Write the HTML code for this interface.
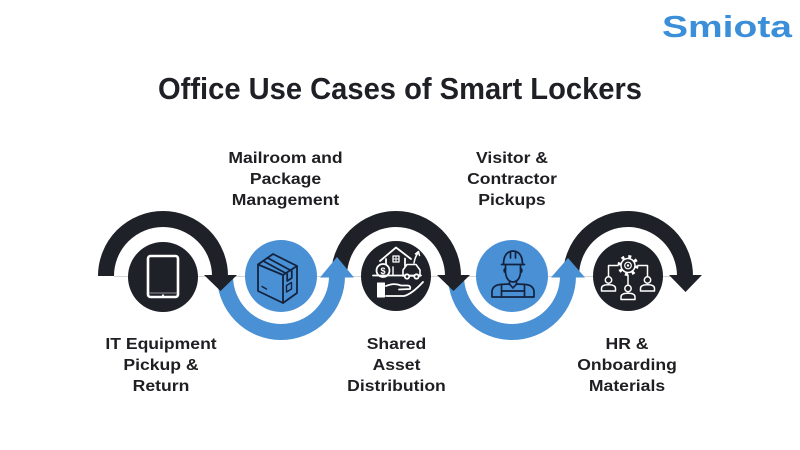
<!DOCTYPE html>
<html>
<head>
<meta charset="utf-8">
<style>
  html,body{margin:0;padding:0;background:#fff;}
  svg{display:block;}
  text{font-family:"Liberation Sans",Arial,sans-serif;}
</style>
</head>
<body>
<svg width="800" height="450" viewBox="0 0 800 450" xmlns="http://www.w3.org/2000/svg">
  <rect width="800" height="450" fill="#ffffff"/>

  <!-- Logo -->
  <text x="662" y="37" font-size="31" font-weight="bold" fill="#3b8ed8" textLength="130" lengthAdjust="spacingAndGlyphs">Smiota</text>

  <!-- Title -->
  <text x="158" y="99" font-size="31" font-weight="bold" fill="#1f2026" textLength="484" lengthAdjust="spacingAndGlyphs">Office Use Cases of Smart Lockers</text>

  <!-- Grey baseline -->
  <line x1="114" y1="276.5" x2="690" y2="276.5" stroke="#d4d4d4" stroke-width="1"/>

  <!-- Arcs -->
  <g fill="none" stroke-width="16">
    <path d="M106 276 A57 57 0 0 1 220 276" stroke="#1f2128"/>
    <path d="M339 276 A57 57 0 0 1 453 276" stroke="#1f2128"/>
    <path d="M571 276 A57 57 0 0 1 685 276" stroke="#1f2128"/>
    <path d="M225 276 A56 56 0 0 0 337 276" stroke="#4a90d4"/>
    <path d="M456 276 A56 56 0 0 0 568 276" stroke="#4a90d4"/>
  </g>

  <!-- Circles -->
  <circle cx="163" cy="277" r="35" fill="#1f2128"/>
  <circle cx="281" cy="276" r="36" fill="#4a90d4"/>
  <circle cx="396" cy="276" r="35" fill="#1f2128"/>
  <circle cx="512" cy="276" r="36" fill="#4a90d4"/>
  <circle cx="628" cy="276" r="35" fill="#1f2128"/>

  <!-- Arrowheads -->
  <polygon points="204,275 237,275 220.5,291" fill="#1f2128"/>
  <polygon points="437,275 470,275 453.5,291" fill="#1f2128"/>
  <polygon points="669,275 702,275 685.5,292" fill="#1f2128"/>
  <polygon points="320,277.5 354,277.5 337,257" fill="#4a90d4"/>
  <polygon points="551,277.5 585,277.5 568,258" fill="#4a90d4"/>

  <!-- Tablet icon -->
  <g fill="none" stroke="#ffffff">
    <rect x="148" y="256" width="30" height="41" rx="2.5" stroke-width="2.6"/>
    <line x1="149.5" y1="293" x2="176.5" y2="293" stroke-width="0.8" stroke="#bbbbbb"/>
  </g>
  <circle cx="163" cy="295.2" r="1" fill="#ffffff"/>

  <!-- Box icon -->
  <g fill="none" stroke="#13233f" stroke-width="1.8" stroke-linejoin="round" stroke-linecap="round">
    <path d="M258 264.5 L273 254 L297 266 L283 275 Z"/>
    <path d="M258 264.5 L258 291 L283 303 L297 293 L297 266"/>
    <path d="M283 275 L283 303"/>
    <path d="M263.2 261 L287.2 274 L287.2 281 L291.8 278 L291.8 271 L267.8 258"/>
    <path d="M286.5 285.5 L291.5 282.5 L291.5 289 L286.5 292 Z" stroke-width="1.4"/>
    <path d="M262 286.5 L266.5 289" stroke-width="1.4"/>
  </g>

  <!-- Shared asset icon -->
  <g fill="none" stroke="#ffffff" stroke-width="1.8" stroke-linejoin="round" stroke-linecap="round">
    <polyline points="380,261 396,247.5 411,259"/>
    <path d="M386 259 V264"/>
    <path d="M405 258.5 V266"/>
    <rect x="393" y="256" width="6" height="6" stroke-width="1.3"/>
    <path d="M396 256 V262 M393 259 H399" stroke-width="1"/>
    <path d="M393 267 V274.5" stroke-width="1.4"/>
    <line x1="373" y1="275.5" x2="421" y2="275.5"/>
    <circle cx="383" cy="270.5" r="6.5"/>
    <path d="M403 276 V270 L407 264.5 H416 L420 270 V276 Z" stroke-width="1.6"/>
    <circle cx="407" cy="276.5" r="2.2" fill="#1f2128"/>
    <circle cx="416.5" cy="276.5" r="2.2" fill="#1f2128"/>
    <path d="M414 263 Q415 257 418 253" stroke-width="1.5"/>
    <path d="M415.5 254 L418.5 251.5 L419.5 255.5" stroke-width="1.5"/>
    <rect x="377.5" y="283" width="7" height="14" fill="#ffffff" stroke-width="1"/>
    <path d="M386 286 Q394 282.5 401 285.5 L408 285.5 Q411 286 410 289 L399 289.5 M386 296 L404 296 Q412 294 423 282" stroke-width="1.8"/>
  </g>
  <text x="383" y="274" font-size="9" font-weight="bold" fill="#ffffff" text-anchor="middle">$</text>

  <!-- Worker icon -->
  <g fill="none" stroke="#13233f" stroke-width="1.7" stroke-linejoin="round" stroke-linecap="round">
    <path d="M501.5 264.5 H524.5"/>
    <path d="M503.5 264.5 Q503.5 251.5 513 251 Q522.5 251.5 522.5 264.5"/>
    <path d="M510.5 251.5 V258 M515.5 251.5 V258"/>
    <path d="M505.5 265 V272.5 Q506.5 281.5 513 282 Q519.5 281.5 520.5 272.5 V265"/>
    <path d="M505.5 268.5 Q503.5 269 504.5 272 M520.5 268.5 Q522.5 269 521.5 272"/>
    <path d="M509.5 281 V284.5 M516.5 281 V284.5"/>
    <path d="M492 297 V291.5 Q492.5 285.5 500 284.5 L509.5 284 L513 288 L516.5 284 L526 284.5 Q533.5 285.5 534 291.5 V297 Z"/>
    <path d="M501.5 285.5 V297 M524.5 285.5 V297 M501.5 291 H524.5"/>
  </g>

  <!-- HR icon -->
  <g fill="none" stroke="#ffffff" stroke-linejoin="round" stroke-linecap="round">
    <circle cx="628" cy="265.5" r="9" stroke-width="3" stroke-dasharray="3 4.07" stroke-linecap="butt"/>
    <circle cx="628" cy="265.5" r="7" stroke-width="1.5" fill="#1f2128"/>
    <circle cx="628" cy="265.5" r="3.3" stroke-width="1.2"/>
    <path d="M618 265.5 H608.5 V276" stroke-width="1.5"/>
    <path d="M638 265.5 H647.5 V276" stroke-width="1.5"/>
    <path d="M628 275 V284.5" stroke-width="1.5"/>
    <circle cx="608.5" cy="280" r="3.2" stroke-width="1.5"/>
    <path d="M601.5 291 V288.5 Q601.5 284.8 608.5 284.8 Q615.5 284.8 615.5 288.5 V291 Z" stroke-width="1.5"/>
    <circle cx="647.5" cy="280" r="3.2" stroke-width="1.5"/>
    <path d="M640.5 291 V288.5 Q640.5 284.8 647.5 284.8 Q654.5 284.8 654.5 288.5 V291 Z" stroke-width="1.5"/>
    <circle cx="628" cy="288.5" r="3.2" stroke-width="1.5"/>
    <path d="M621 299.5 V297 Q621 293.3 628 293.3 Q635 293.3 635 297 V299.5 Z" stroke-width="1.5"/>
  </g>
  <circle cx="628" cy="265.5" r="1.2" fill="#ffffff"/>

  <!-- Labels -->
  <g font-size="16" font-weight="bold" fill="#1f1f23" text-anchor="middle">
    <g transform="translate(285.5,0) scale(1.1,1)">
      <text x="0" y="163">Mailroom and</text>
      <text x="0" y="184">Package</text>
      <text x="0" y="205">Management</text>
    </g>
    <g transform="translate(512,0) scale(1.1,1)">
      <text x="0" y="163">Visitor &amp;</text>
      <text x="0" y="184">Contractor</text>
      <text x="0" y="205">Pickups</text>
    </g>
    <g transform="translate(161,0) scale(1.1,1)">
      <text x="0" y="349">IT Equipment</text>
      <text x="0" y="370">Pickup &amp;</text>
      <text x="0" y="391">Return</text>
    </g>
    <g transform="translate(396.5,0) scale(1.1,1)">
      <text x="0" y="349">Shared</text>
      <text x="0" y="370">Asset</text>
      <text x="0" y="391">Distribution</text>
    </g>
    <g transform="translate(627,0) scale(1.1,1)">
      <text x="0" y="349">HR &amp;</text>
      <text x="0" y="370">Onboarding</text>
      <text x="0" y="391">Materials</text>
    </g>
  </g>
</svg>
</body>
</html>
